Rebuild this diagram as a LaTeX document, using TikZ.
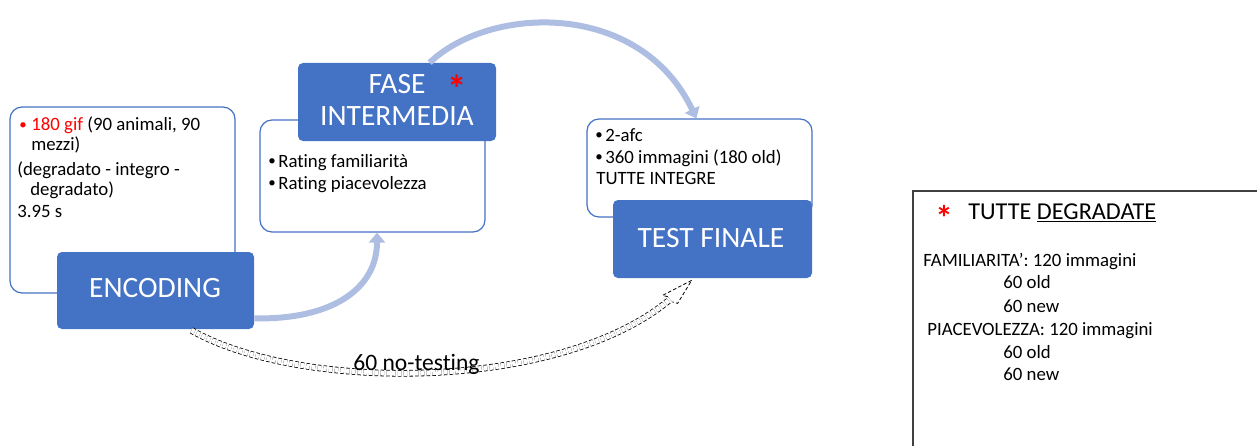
\documentclass[tikz,border=0pt]{standalone}
\usepackage{fontspec}
\setmainfont{Carlito}[Ligatures=NoCommon]
\usetikzlibrary{arrows.meta,calc,fit}
\definecolor{accent}{HTML}{4472C4}
\definecolor{arrowblue}{HTML}{AEBEE3}
\definecolor{starred}{HTML}{FF0000}
\definecolor{frame}{HTML}{404040}
\newcommand{\bul}[1]{\makebox[#1][l]{\raisebox{0.6pt}{\fontsize{8.5}{8.5}\selectfont •}}}
\begin{document}
\begin{tikzpicture}[x=0.02cm,y=-0.02cm,
  textbox/.style={draw=accent, line width=0.7pt, rounded corners=0.24cm, fill=white, inner sep=0pt},
  bluebox/.style={fill=accent, rounded corners=0.1cm, inner sep=0pt},
  small/.style={font=\fontsize{10.7}{12.8}\selectfont, inner sep=0pt, anchor=base west},
  big/.style={font=\fontsize{16.8}{20}\selectfont, text=white, inner sep=0pt, anchor=base},
  star/.style={font=\fontsize{20}{22}\selectfont\bfseries, text=starred, inner sep=0pt, anchor=base},
  flow/.style={draw=arrowblue, line width=0.12cm, -{Triangle[width=0.32cm,length=0.2cm]}},
  skip/.style={draw=black, dashed, dash pattern=on 0.07cm off 0.045cm, line width=0.45pt},
]
\useasboundingbox (0,0) rectangle (1257,446);

% text boxes
\node[textbox, fit={(10,107)(235,293)}] (encT) {};
\node[textbox, fit={(260,120)(485,232)}] (intT) {};
\node[textbox, fit={(587,119)(812,217)}] (testT) {};

% blue boxes
\node[bluebox, fit={(57,252)(254,329)}] (encB) {};
\node[bluebox, fit={(298,63)(496,141)}] (faseB) {};
\node[bluebox, fit={(613,200)(812,278)}] (testB) {};

% encoding texts
\node[small] (e1) at (19,131) {\textcolor{starred}{\bul{0.24cm}180 gif} (90 animali, 90};
\node[small] (e2) at (31,151) {mezzi)};
\node[small] (e3) at (17,175) {(degradato - integro -};
\node[small] (e4) at (30,195) {degradato)};
\node[small] (e5) at (17,217) {3.95 s};
\node[big] (encL) at (155,297) {ENCODING};

% intermediate
\node[big] (faseL1) at (397,93) {FASE\rlap{\hspace{0.44cm}\smash{\raisebox{-0.2cm}{\fontsize{22}{24}\selectfont\bfseries\color{starred}*}}}};
\node[big] (faseL2) at (397,126) {INTERMEDIA};
\node[small] (i1) at (268,167) {\bul{0.2cm}Rating familiarità};
\node[small] (i2) at (268,189) {\bul{0.2cm}Rating piacevolezza};

% test
\node[small] (t1) at (595,141) {\bul{0.2cm}2-afc};
\node[small] (t2) at (595,163) {\bul{0.2cm}360 immagini (180 old)};
\node[small] (t3) at (596,184) {TUTTE INTEGRE};
\node[big] (testL) at (711,247) {TEST FINALE};

% arrows
\draw[flow] ($(encB.south east)+(0,-11)$) .. controls (330,320) and (377,290) .. ($(intT.south)+(4.5,0)$);
\draw[flow] ($(faseB.north west)+(132,0)$) .. controls (490,5) and (640,0) .. ($(testT.north west)+(110,0)$);

% dashed double arrow
\coordinate (dStart) at ($(encB.south)+(36,1)$);
\coordinate (dEnd) at ($(testB.south west)+(57.5,21)$);
\coordinate (dTip) at ($(testB.south west)+(79,2)$);
\draw[skip, double=white, double distance=0.1cm] (dStart) .. controls (300,392) and (560,392) .. (dEnd);
\draw[skip] ($(dEnd)+(-2.3,-2.6)$) -- ($(dEnd)+(-7.5,-4)$) -- (dTip) -- ($(dEnd)+(7.5,4)$) -- ($(dEnd)+(2.3,2.6)$);
\node[font=\fontsize{13.4}{16}\selectfont, inner sep=0pt, anchor=base west] (skipL) at (353,370) {60 no-testing};

% right note
\draw[frame, line width=0.8pt] (913,446) -- (913,191) -- (1257,191);
\node[star] (noteStar) at (944,230) {*};
\node[font=\fontsize{13.8}{16}\selectfont, inner sep=0pt, anchor=base west] (r0) at (968,219) {TUTTE \underline{DEGRADATE}};
\node[small] (r1) at (923,266) {FAMILIARITA’: 120 immagini};
\node[small] (r2) at (1003,288) {60 old};
\node[small] (r3) at (1003,312) {60 new};
\node[small] (r4) at (927,335) {PIACEVOLEZZA: 120 immagini};
\node[small] (r5) at (1003,358) {60 old};
\node[small] (r6) at (1003,380) {60 new};
\end{tikzpicture}
\end{document}
